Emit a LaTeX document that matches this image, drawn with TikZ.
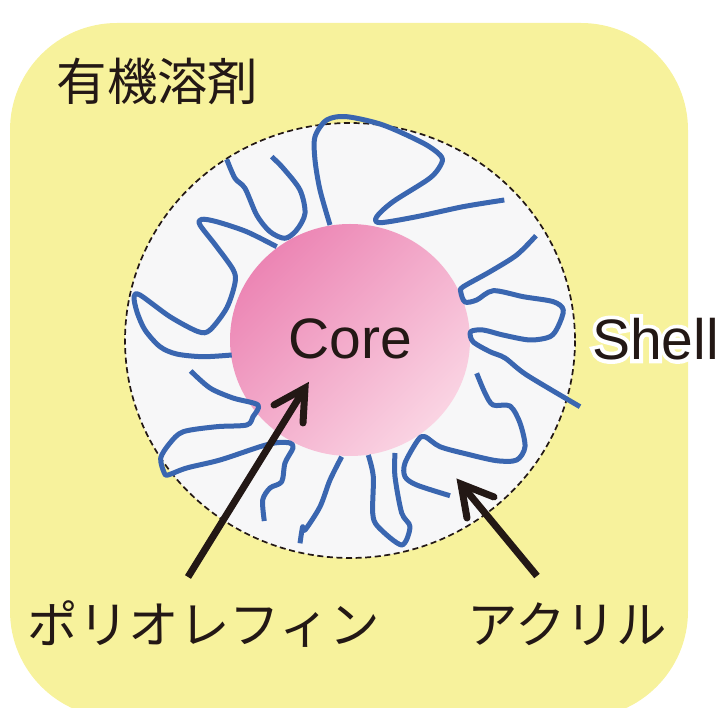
\documentclass[tikz,border=0pt]{standalone}
\usepackage{fontspec}
\setmainfont{Liberation Sans}
\newfontfamily\jpfont{Noto Sans CJK JP}
\newfontfamily\haloFont[FakeBold=14]{Liberation Sans}
\usetikzlibrary{calc}
\definecolor{solvent}{HTML}{F7F29C}
\definecolor{shellfill}{HTML}{F7F7F8}
\definecolor{chain}{HTML}{3A66B0}
\definecolor{ink}{HTML}{231815}
\definecolor{coreA}{HTML}{EC85B4}
\definecolor{coreB}{HTML}{FAD4E3}
\tikzset{
  chainline/.style={draw=chain,line width=5pt,line join=round,line cap=butt},
  pointer/.style={draw=ink,line width=7pt,line cap=butt},
  pointerhead/.style={draw=ink,line width=7pt,line cap=round,line join=miter,miter limit=10},
  jplabel/.style={inner sep=0pt,anchor=center,text=ink,font=\jpfont\fontsize{50.5}{54}\selectfont},
  enlabel/.style={inner sep=0pt,anchor=center,text=ink,font=\fontsize{57}{60}\selectfont},
}
\begin{document}
\begin{tikzpicture}[x=1pt,y=-1pt]
\useasboundingbox (0,0) rectangle (724,708);
\begin{scope}
  \clip (0,0) rectangle (724,708);
  \fill[solvent,rounded corners=107pt] (10,23) rectangle (688,718);
\end{scope}
% shell and core
\fill[shellfill] (350,340.5) ellipse[x radius=225,y radius=217.5];
\draw[ink,line width=1.7pt,dash pattern=on 6pt off 3.6pt] (350,340.5) ellipse[x radius=225,y radius=217.5];
\shade[left color=coreA,right color=coreB,shading angle=45]
  (350,340) ellipse[x radius=120,y radius=116];
% polymer chains
\draw[chainline] plot[smooth,tension=0.5] coordinates {(271.7,156.7) (283.3,168.3) (300,190) (305,213.3) (296.7,230) (285,238.3) (270,231.7) (256.7,215) (245,188.3) (235,178.3) (226.7,159.3)};
\draw[chainline] plot[smooth,tension=0.5] coordinates {(276.7,246.7) (246.7,231.7) (216.7,221.7) (201.7,219.3) (200,225) (216.7,246.7) (233.3,270) (235,283) (226.7,308) (210,330) (198.3,331.7) (170,316.7) (140,295) (134,296.7) (137,312) (145,330) (160,346.7) (176.7,354) (203,356.7) (231.7,355)};
\draw[chainline] plot[smooth,tension=0.5] coordinates {(330,225) (320,190) (315,160) (315,136.7) (326.7,120) (346.7,116.7) (383,125) (423,143) (440,155) (441.7,163) (430,178) (393,201.7) (376.7,216.7) (380,222.7) (416.7,216.7) (463,206.7) (504.3,200)};
\draw[chainline] plot[smooth,tension=0.5] coordinates {(536,235.7) (516.7,255) (490,271.7) (463.3,286.7) (460.7,291.7) (465,302) (476.7,300) (493.3,290.7) (523.3,296.7) (553.3,301.7) (563.3,310) (558,326.7) (550,336.7) (530,340) (503,335) (483,330) (470.7,331.7) (473,341.7) (490,351.7) (505,358) (526.7,375) (580,406.7)};
\draw[chainline] plot[smooth,tension=0.5] coordinates {(476.7,373.3) (485,393) (493,405) (510,406) (520,423) (525,446.7) (516.7,460) (496.7,460.7) (466.7,454) (440,446.7) (425,436.7) (418,440) (405,463) (405,476.7) (416.7,485) (450,495.7)};
\draw[chainline] plot[smooth,tension=0.5] coordinates {(395,453) (395,476.7) (401.7,513) (410,526.7) (401.7,545) (378,526.7) (372.7,513) (373.3,476.7) (368.3,455)};
\draw[chainline] plot[smooth,tension=0.5] coordinates {(341.7,456.7) (330,480) (320,506.7) (305,530) (302.7,526.7) (300,543.3)};
\draw[chainline] plot[smooth,tension=0.5] coordinates {(264.3,521) (262.7,500) (270,488) (281.7,481.7) (285,463) (293,448) (290,443) (276.7,442.7) (260,446.7) (220,460) (186.7,468) (168,475) (164.3,473) (160.7,458) (170,443) (183.3,431.7) (216.7,426.7) (246.7,425) (253,416.7) (258,405) (233,398) (210,388) (190.7,371)};
% labels
\node[jplabel] (solventlabel) at (157.5,81) {有機溶剤};
\node[enlabel] (corelabel) at (350.5,339) {Core};
\node[enlabel] (shelllabel) at (655.5,339) {\rlap{\haloFont\textcolor{white}{Shell}}Shell};
\node[jplabel] (polyolefin) at (204,624) {ポリオレフィン};
\node[jplabel] (acryl) at (567,624) {アクリル};
% pointers
\coordinate (coretip) at (305,388);
\coordinate (coretail) at (188,577);
\coordinate (acrtip) at (461,484);
\coordinate (acrtail) at (537,576);
\draw[pointer] (coretail) -- ($(coretip)!4pt!(coretail)$);
\draw[pointerhead] (274,405) -- (coretip) -- (303,423);
\draw[pointer] (acrtail) -- ($(acrtip)!4pt!(acrtail)$);
\draw[pointerhead] (494,497) -- (acrtip) -- (467,518);
\end{tikzpicture}
\end{document}
